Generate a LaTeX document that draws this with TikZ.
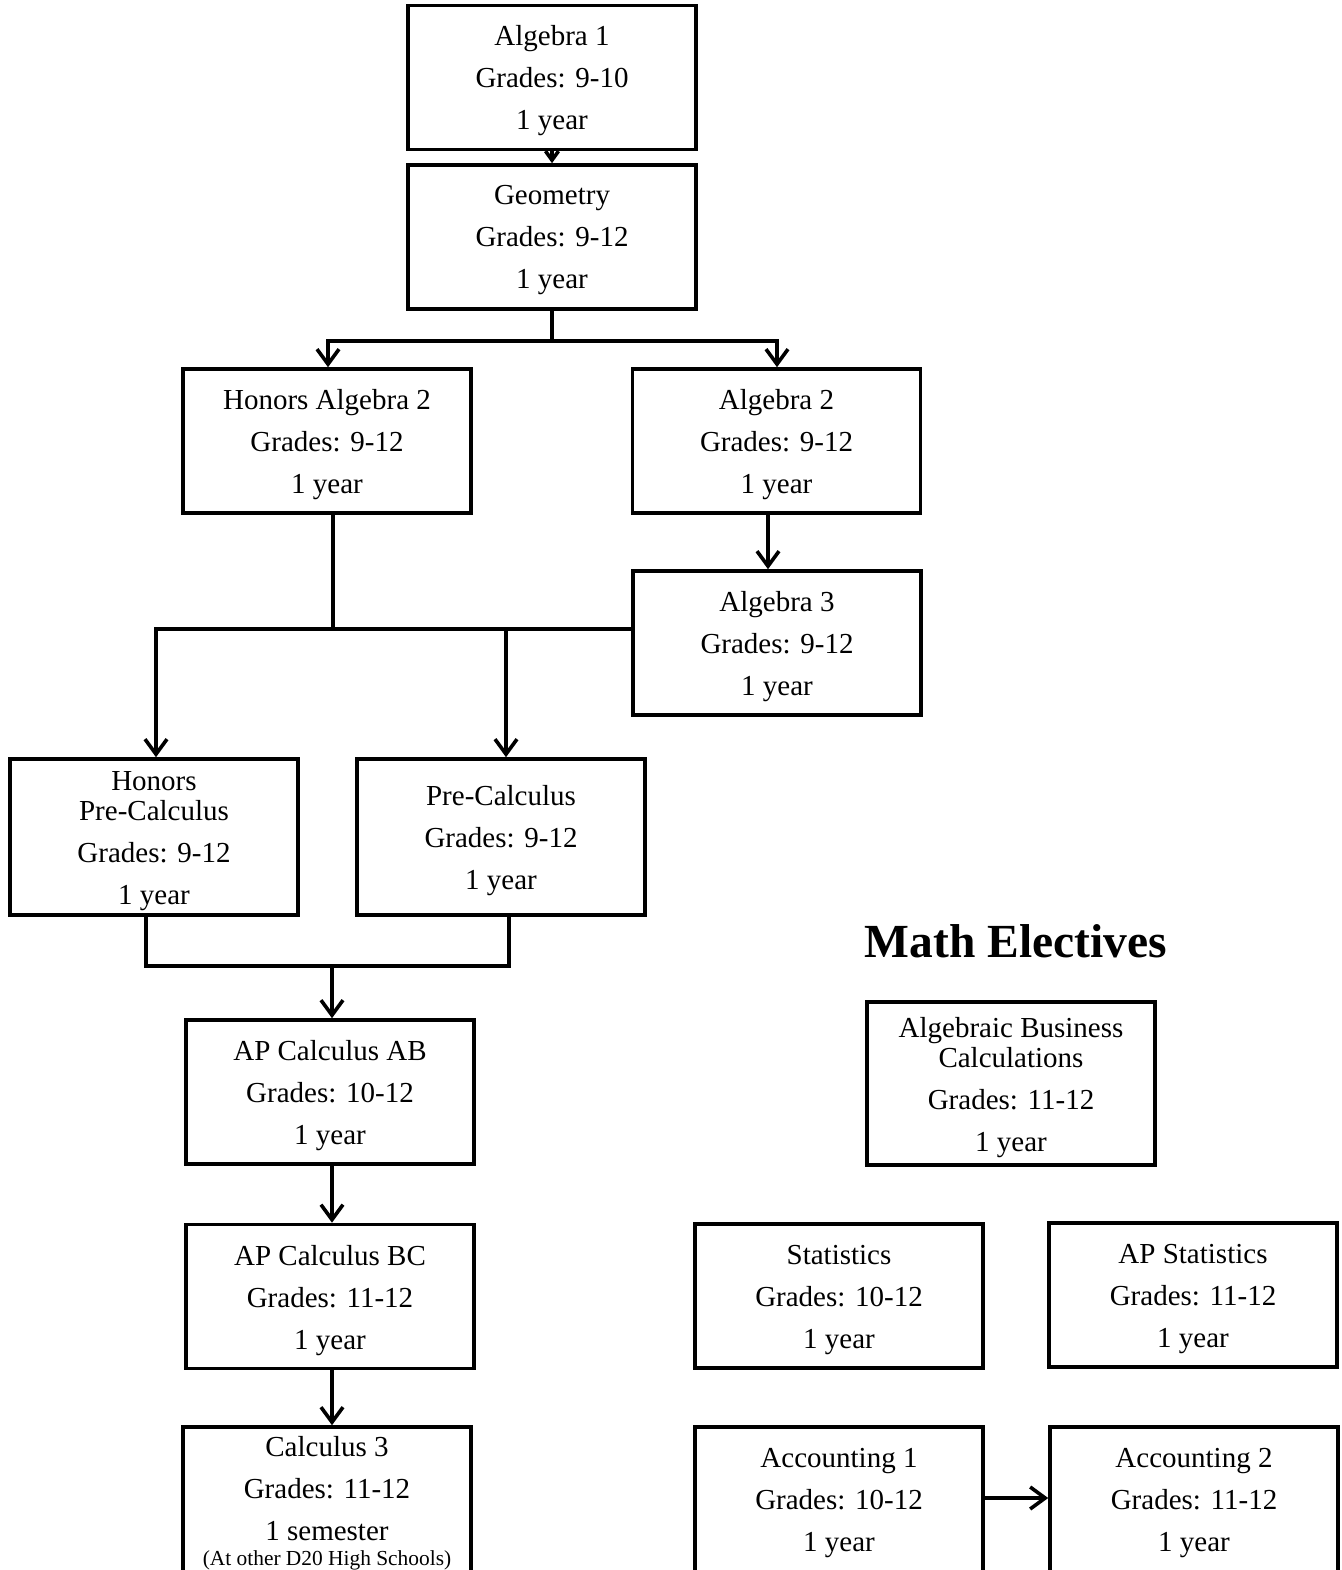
\documentclass[tikz,border=0pt]{standalone}
\usepackage{fontspec}
\setmainfont{Liberation Serif}
\usetikzlibrary{arrows.meta}
\tikzset{
  course/.style={draw, line width=3.6pt, minimum width=288pt, minimum height=144pt, inner sep=0pt},
  coursetext/.style={align=center, inner sep=0pt, font=\fontsize{29}{42}\selectfont},
  conn/.style={line width=3.6pt},
  arr/.style={conn, -{Straight Barb[length=15pt,width=22pt]}},
  smallarr/.style={conn, -{Straight Barb[length=9pt,width=13pt]}},
  title/.style={font=\fontsize{47.5}{56}\selectfont\bfseries}
}
\newcommand\mkcourse[5]{%
  \node[course,#1] (#2) at #3 {};
  \node[coursetext] (#2t) at ([yshift=#4]#2.center) {#5};}
\begin{document}
\begin{tikzpicture}[x=1pt,y=-1pt]
\useasboundingbox (0,0) rectangle (1341,1570);

\mkcourse{}{alg1}{(552,77.5)}{-3pt}{Algebra 1\\Grades: 9-10\\1 year}
\mkcourse{}{geo}{(552,237)}{-3pt}{Geometry\\Grades: 9-12\\1 year}
\mkcourse{}{hal2}{(327,441)}{-3.5pt}{Honors Algebra 2\\Grades: 9-12\\1 year}
\mkcourse{}{alg2}{(776.5,441)}{-3.5pt}{Algebra 2\\Grades: 9-12\\1 year}
\mkcourse{}{alg3}{(777,643)}{-3.5pt}{Algebra 3\\Grades: 9-12\\1 year}
\mkcourse{minimum height=156pt}{hpc}{(154,837)}{-4.5pt}{Honors\\[-12pt]Pre-Calculus\\Grades: 9-12\\1 year}
\mkcourse{minimum height=156pt}{pc}{(501,837)}{-4pt}{Pre-Calculus\\Grades: 9-12\\1 year}
\mkcourse{}{ab}{(330,1092)}{-4pt}{AP Calculus AB\\Grades: 10-12\\1 year}
\mkcourse{}{bc}{(330,1296.5)}{-4pt}{AP Calculus BC\\Grades: 11-12\\1 year}
\mkcourse{minimum height=160pt}{c3}{(327,1507)}{4pt}{Calculus 3\\Grades: 11-12\\1 semester\\[-17pt]{\fontsize{21.4}{25}\selectfont (At other D20 High Schools)}}

\node[title] (me) at (1016,941) {Math Electives};
\mkcourse{minimum height=163pt}{abc}{(1011,1083.5)}{-4.5pt}{Algebraic Business\\[-12pt]Calculations\\Grades: 11-12\\1 year}
\mkcourse{}{stat}{(839,1296)}{-4pt}{Statistics\\Grades: 10-12\\1 year}
\mkcourse{}{apstat}{(1193,1295)}{-4pt}{AP Statistics\\Grades: 11-12\\1 year}
\mkcourse{minimum height=160pt}{acc1}{(839,1507)}{4pt}{Accounting 1\\Grades: 10-12\\1 year}
\mkcourse{minimum height=160pt}{acc2}{(1194,1507)}{4pt}{Accounting 2\\Grades: 11-12\\1 year}

% connectors
\draw[smallarr] (alg1.south) -- (geo.north);
\draw[arr] (geo.south) -- ++(0,30) -| ([xshift=1pt]hal2.north);
\draw[arr] (geo.south) -- ++(0,30) -| ([xshift=0.5pt]alg2.north);
\draw[arr] ([xshift=-8.5pt]alg2.south) -- ([xshift=-9pt]alg3.north);

\coordinate (j1) at (333,629);
\coordinate (j2) at (506,629);
\draw[conn] ([xshift=6pt]hal2.south) -- (j1);
\draw[arr] (j1 -| alg3.west) -| ([xshift=2pt]hpc.north);
\draw[arr] (j2) -- (j2 |- pc.north);

\coordinate (m) at (332,966);
\draw[conn] ([xshift=-8pt]hpc.south) |- (m) -| ([xshift=8pt]pc.south);
\draw[arr] (m) -- (m |- ab.north);
\draw[arr] (ab.south -| m) -- (bc.north -| m);
\draw[arr] (bc.south -| m) -- (c3.north -| m);
\coordinate (a1) at (983,1498);
\draw[arr] (a1 -| acc1.east) -- (a1 -| acc2.west);
\end{tikzpicture}
\end{document}
